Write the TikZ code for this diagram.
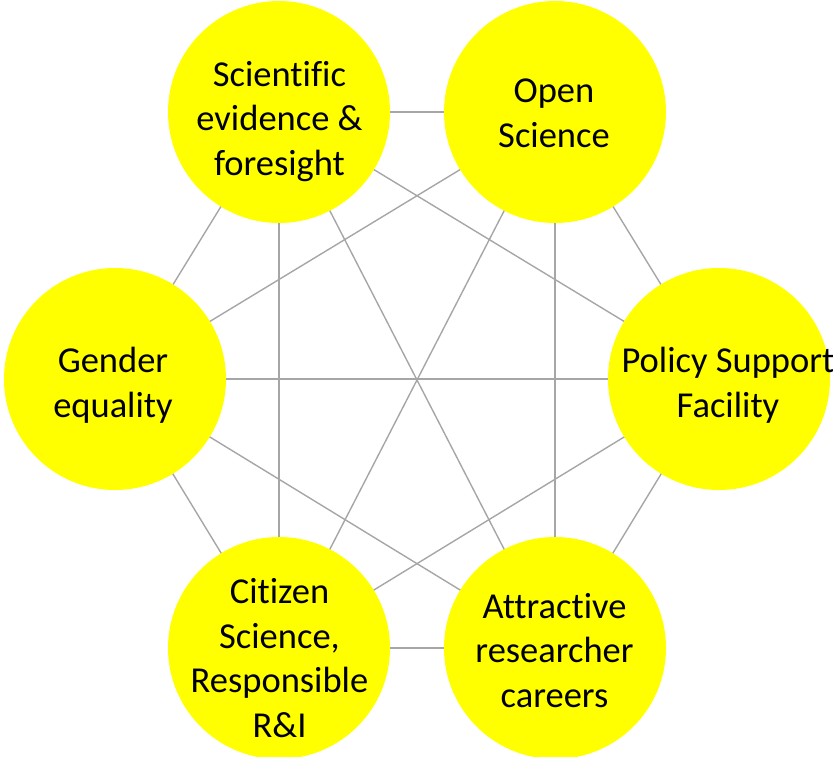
\documentclass[tikz,border=0pt]{standalone}
\usepackage{fontspec}
\setmainfont[Ligatures=NoCommon]{Carlito}
\pgfdeclarelayer{bg}
\pgfsetlayers{bg,main}
\begin{document}
\begin{tikzpicture}[x=1pt,y=-1pt,
  bubble/.style={circle,fill={rgb,255:red,255;green,255;blue,0},draw=none,minimum size=222pt,inner sep=0pt},
  txt/.style={align=center,font=\fontsize{36.5}{44.5}\selectfont,inner sep=0pt,anchor=base},
  link/.style={draw={rgb,255:red,166;green,166;blue,166},line width=1.4pt}]
\useasboundingbox (0,0) rectangle (833,756);
% circles
\node[bubble] (sci) at (279,112) {};
\node[bubble] (open) at (555,112) {};
\node[bubble] (gen) at (115,379) {};
\node[bubble] (pol) at (719,379) {};
\node[bubble] (cit) at (279,648) {};
\node[bubble] (att) at (555,648) {};
% connectors behind circles
\begin{pgfonlayer}{bg}
\foreach \a/\b in {sci/open,sci/gen,sci/pol,sci/cit,sci/att,open/gen,open/pol,open/cit,open/att,gen/pol,gen/cit,gen/att,pol/cit,pol/att,cit/att}{
  \path[link] (\a.center) -- (\b.center);
}
\end{pgfonlayer}
% texts (anchor = baseline of last line)
\node[txt] (sciT) at (279.5,175) {Scientific\\evidence \&\\foresight};
\node[txt] (openT) at (554,147) {Open\\Science};
\node[txt] (genT) at (113,417) {Gender\\equality};
\node[txt] (polT) at (728,417) {Policy Support\\Facility};
\node[txt] (citT) at (279.5,737) {Citizen\\Science,\\Responsible\\R\&I};
\node[txt] (attT) at (554.5,707) {Attractive\\researcher\\careers};
\end{tikzpicture}
\end{document}
